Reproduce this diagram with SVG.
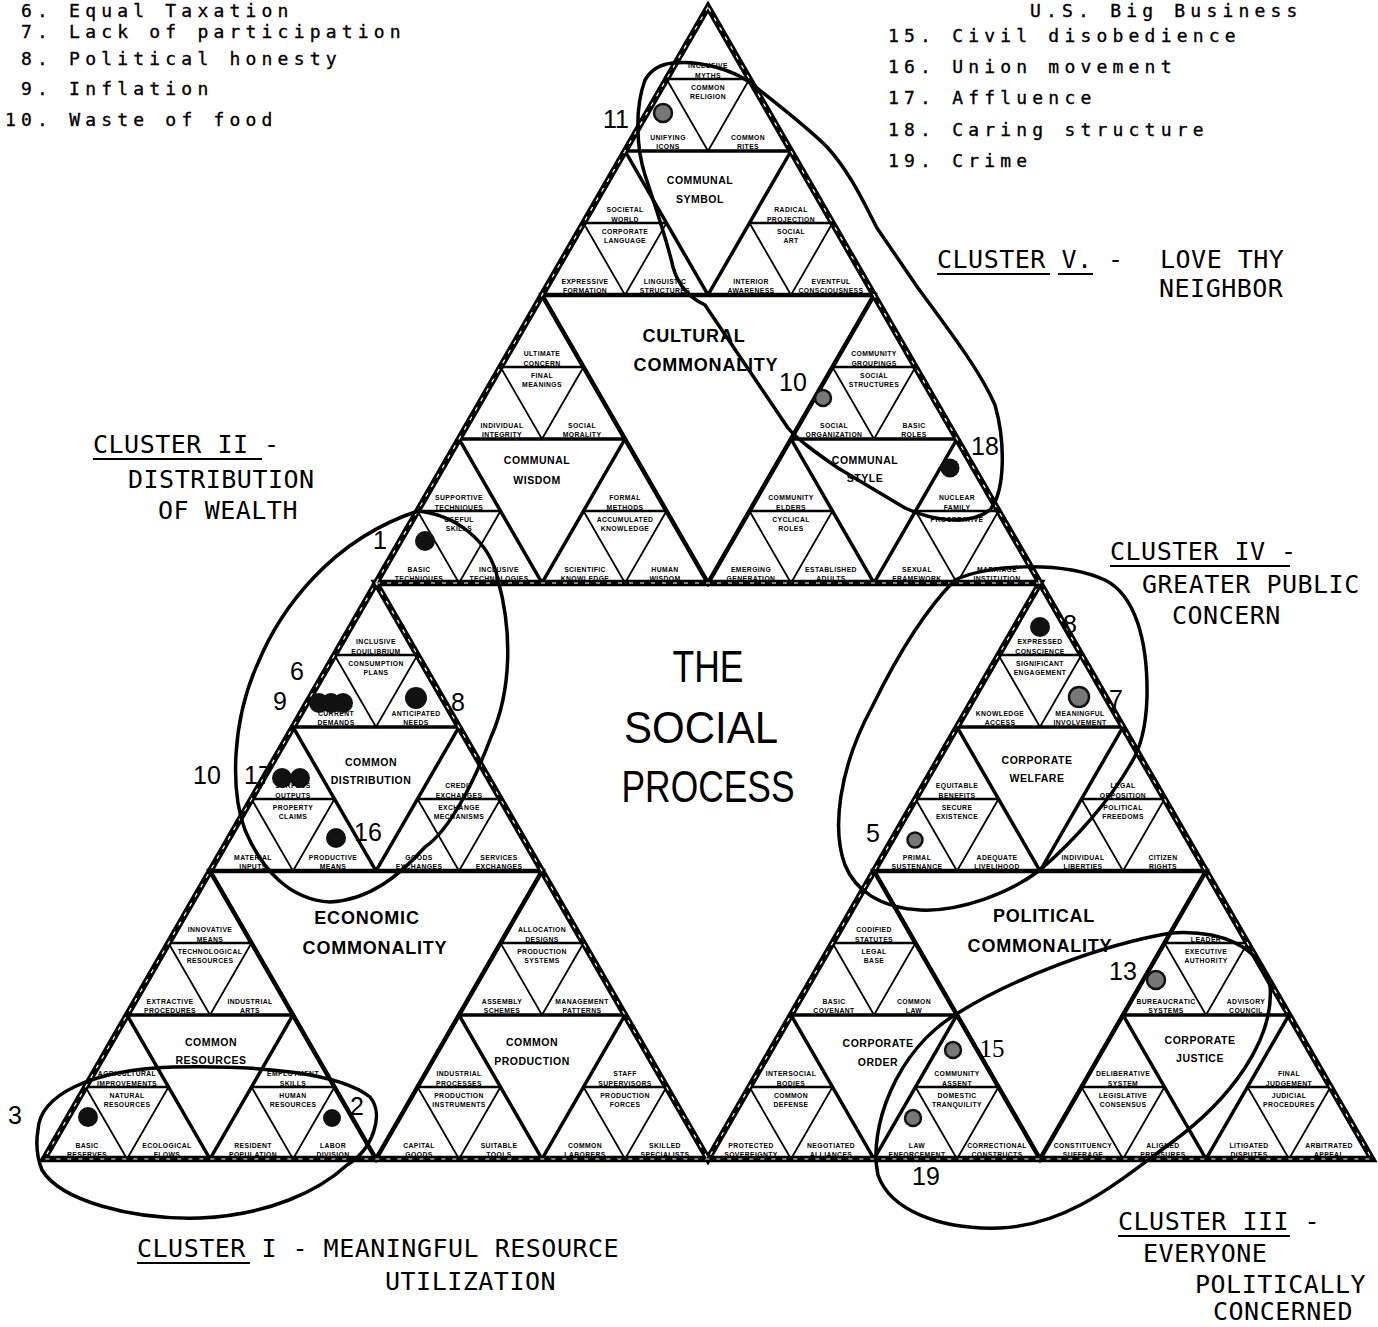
<svg xmlns="http://www.w3.org/2000/svg" xmlns:xlink="http://www.w3.org/1999/xlink" width="1378" height="1327" viewBox="0 0 1378 1327">
<style>
.s{font-family:"Liberation Sans",Arial,sans-serif;font-weight:bold;font-size:6.8px;text-anchor:middle;letter-spacing:0.4px;fill:#000}
.m{font-family:"Liberation Sans",Arial,sans-serif;font-weight:bold;font-size:10.5px;text-anchor:middle;letter-spacing:0.5px}
.b{font-family:"Liberation Sans",Arial,sans-serif;font-weight:bold;font-size:18px;text-anchor:middle;letter-spacing:0.8px}
.sp{font-family:"Liberation Sans",Arial,sans-serif;font-size:44px;text-anchor:middle}
.t{font-family:"DejaVu Sans Mono",monospace;font-size:18px;letter-spacing:5.2px;stroke:#000;stroke-width:0.35}
.c{font-family:"DejaVu Sans Mono",monospace;font-size:25px;letter-spacing:0.5px}
.n{font-family:"Liberation Sans",Arial,sans-serif;font-size:25px;text-anchor:middle}
.o3{fill:none;stroke:#000;stroke-width:3.5}
.h4{stroke:#000;stroke-width:2.6}
.d4{fill:none;stroke:#000;stroke-width:1.8}
.o2{fill:none;stroke:#000;stroke-width:4.5}
.o1{fill:none;stroke:#000;stroke-width:6.5}
.wd{fill:none;stroke:#fff;stroke-width:1.2;stroke-dasharray:4 7}
.el{fill:none;stroke:#000;stroke-width:3.5;stroke-linejoin:round}
.ul{stroke:#000;stroke-width:2}
.dk{fill:#111}
.gr{fill:#777;stroke:#111;stroke-width:2.5}
</style>
<defs>
<g id="t3"><polygon class="o3" points="0,0 -83,144 83,144"/><line class="h4" x1="-41.5" y1="72" x2="41.5" y2="72"/><polyline class="d4" points="-41.5,72 0,144 41.5,72"/></g>
</defs>
<rect width="1378" height="1327" fill="#fff"/>

<g id="lists">
<text class="t" x="21" y="17">6. Equal Taxation</text>
<text class="t" x="21" y="38">7. Lack of participation</text>
<text class="t" x="21" y="65">8. Political honesty</text>
<text class="t" x="21" y="95">9. Inflation</text>
<text class="t" x="5" y="126">10. Waste of food</text>
<text class="t" x="1030" y="17">U.S. Big Business</text>
<text class="t" x="888" y="42">15. Civil disobedience</text>
<text class="t" x="888" y="73">16. Union movement</text>
<text class="t" x="888" y="104">17. Affluence</text>
<text class="t" x="888" y="136">18. Caring structure</text>
<text class="t" x="888" y="167">19. Crime</text>
</g>

<g id="l3-inclusive-myths" transform="translate(708,7)"><use href="#t3"/><text class="s" y="61">INCLUSIVE</text><text class="s" y="70.5">MYTHS</text><text class="s" y="82.5">COMMON</text><text class="s" y="91.5">RELIGION</text><text class="s" x="-40" y="132.5">UNIFYING</text><text class="s" x="-40" y="141.5">ICONS</text><text class="s" x="40" y="132.5">COMMON</text><text class="s" x="40" y="141.5">RITES</text></g>
<g id="l3-societal-world" transform="translate(625,151)"><use href="#t3"/><text class="s" y="61">SOCIETAL</text><text class="s" y="70.5">WORLD</text><text class="s" y="82.5">CORPORATE</text><text class="s" y="91.5">LANGUAGE</text><text class="s" x="-40" y="132.5">EXPRESSIVE</text><text class="s" x="-40" y="141.5">FORMATION</text><text class="s" x="40" y="132.5">LINGUISTIC</text><text class="s" x="40" y="141.5">STRUCTURES</text></g>
<g id="l3-radical-projection" transform="translate(791,151)"><use href="#t3"/><text class="s" y="61">RADICAL</text><text class="s" y="70.5">PROJECTION</text><text class="s" y="82.5">SOCIAL</text><text class="s" y="91.5">ART</text><text class="s" x="-40" y="132.5">INTERIOR</text><text class="s" x="-40" y="141.5">AWARENESS</text><text class="s" x="40" y="132.5">EVENTFUL</text><text class="s" x="40" y="141.5">CONSCIOUSNESS</text></g>
<g id="l3-ultimate-concern" transform="translate(542,295)"><use href="#t3"/><text class="s" y="61">ULTIMATE</text><text class="s" y="70.5">CONCERN</text><text class="s" y="82.5">FINAL</text><text class="s" y="91.5">MEANINGS</text><text class="s" x="-40" y="132.5">INDIVIDUAL</text><text class="s" x="-40" y="141.5">INTEGRITY</text><text class="s" x="40" y="132.5">SOCIAL</text><text class="s" x="40" y="141.5">MORALITY</text></g>
<g id="l3-supportive-techniques" transform="translate(459,439)"><use href="#t3"/><text class="s" y="61">SUPPORTIVE</text><text class="s" y="70.5">TECHNIQUES</text><text class="s" y="82.5">USEFUL</text><text class="s" y="91.5">SKILLS</text><text class="s" x="-40" y="132.5">BASIC</text><text class="s" x="-40" y="141.5">TECHNIQUES</text><text class="s" x="40" y="132.5">INCLUSIVE</text><text class="s" x="40" y="141.5">TECHNOLOGIES</text></g>
<g id="l3-formal-methods" transform="translate(625,439)"><use href="#t3"/><text class="s" y="61">FORMAL</text><text class="s" y="70.5">METHODS</text><text class="s" y="82.5">ACCUMULATED</text><text class="s" y="91.5">KNOWLEDGE</text><text class="s" x="-40" y="132.5">SCIENTIFIC</text><text class="s" x="-40" y="141.5">KNOWLEDGE</text><text class="s" x="40" y="132.5">HUMAN</text><text class="s" x="40" y="141.5">WISDOM</text></g>
<g id="l3-community-groupings" transform="translate(874,295)"><use href="#t3"/><text class="s" y="61">COMMUNITY</text><text class="s" y="70.5">GROUPINGS</text><text class="s" y="82.5">SOCIAL</text><text class="s" y="91.5">STRUCTURES</text><text class="s" x="-40" y="132.5">SOCIAL</text><text class="s" x="-40" y="141.5">ORGANIZATION</text><text class="s" x="40" y="132.5">BASIC</text><text class="s" x="40" y="141.5">ROLES</text></g>
<g id="l3-community-elders" transform="translate(791,439)"><use href="#t3"/><text class="s" y="61">COMMUNITY</text><text class="s" y="70.5">ELDERS</text><text class="s" y="82.5">CYCLICAL</text><text class="s" y="91.5">ROLES</text><text class="s" x="-40" y="132.5">EMERGING</text><text class="s" x="-40" y="141.5">GENERATION</text><text class="s" x="40" y="132.5">ESTABLISHED</text><text class="s" x="40" y="141.5">ADULTS</text></g>
<g id="l3-nuclear-family" transform="translate(957,439)"><use href="#t3"/><text class="s" y="61">NUCLEAR</text><text class="s" y="70.5">FAMILY</text><text class="s" y="82.5">PROCREATIVE</text><text class="s" x="-40" y="132.5">SEXUAL</text><text class="s" x="-40" y="141.5">FRAMEWORK</text><text class="s" x="40" y="132.5">MARRIAGE</text><text class="s" x="40" y="141.5">INSTITUTION</text></g>
<g id="l3-inclusive-equilibrium" transform="translate(376,583)"><use href="#t3"/><text class="s" y="61">INCLUSIVE</text><text class="s" y="70.5">EQUILIBRIUM</text><text class="s" y="82.5">CONSUMPTION</text><text class="s" y="91.5">PLANS</text><text class="s" x="-40" y="132.5">CURRENT</text><text class="s" x="-40" y="141.5">DEMANDS</text><text class="s" x="40" y="132.5">ANTICIPATED</text><text class="s" x="40" y="141.5">NEEDS</text></g>
<g id="l3-surplus-outputs" transform="translate(293,727)"><use href="#t3"/><text class="s" y="61">SURPLUS</text><text class="s" y="70.5">OUTPUTS</text><text class="s" y="82.5">PROPERTY</text><text class="s" y="91.5">CLAIMS</text><text class="s" x="-40" y="132.5">MATERIAL</text><text class="s" x="-40" y="141.5">INPUTS</text><text class="s" x="40" y="132.5">PRODUCTIVE</text><text class="s" x="40" y="141.5">MEANS</text></g>
<g id="l3-credit-exchanges" transform="translate(459,727)"><use href="#t3"/><text class="s" y="61">CREDIT</text><text class="s" y="70.5">EXCHANGES</text><text class="s" y="82.5">EXCHANGE</text><text class="s" y="91.5">MECHANISMS</text><text class="s" x="-40" y="132.5">GOODS</text><text class="s" x="-40" y="141.5">EXCHANGES</text><text class="s" x="40" y="132.5">SERVICES</text><text class="s" x="40" y="141.5">EXCHANGES</text></g>
<g id="l3-innovative-means" transform="translate(210,871)"><use href="#t3"/><text class="s" y="61">INNOVATIVE</text><text class="s" y="70.5">MEANS</text><text class="s" y="82.5">TECHNOLOGICAL</text><text class="s" y="91.5">RESOURCES</text><text class="s" x="-40" y="132.5">EXTRACTIVE</text><text class="s" x="-40" y="141.5">PROCEDURES</text><text class="s" x="40" y="132.5">INDUSTRIAL</text><text class="s" x="40" y="141.5">ARTS</text></g>
<g id="l3-agricultural-improvements" transform="translate(127,1015)"><use href="#t3"/><text class="s" y="61">AGRICULTURAL</text><text class="s" y="70.5">IMPROVEMENTS</text><text class="s" y="82.5">NATURAL</text><text class="s" y="91.5">RESOURCES</text><text class="s" x="-40" y="132.5">BASIC</text><text class="s" x="-40" y="141.5">RESERVES</text><text class="s" x="40" y="132.5">ECOLOGICAL</text><text class="s" x="40" y="141.5">FLOWS</text></g>
<g id="l3-employment-skills" transform="translate(293,1015)"><use href="#t3"/><text class="s" y="61">EMPLOYMENT</text><text class="s" y="70.5">SKILLS</text><text class="s" y="82.5">HUMAN</text><text class="s" y="91.5">RESOURCES</text><text class="s" x="-40" y="132.5">RESIDENT</text><text class="s" x="-40" y="141.5">POPULATION</text><text class="s" x="40" y="132.5">LABOR</text><text class="s" x="40" y="141.5">DIVISION</text></g>
<g id="l3-allocation-designs" transform="translate(542,871)"><use href="#t3"/><text class="s" y="61">ALLOCATION</text><text class="s" y="70.5">DESIGNS</text><text class="s" y="82.5">PRODUCTION</text><text class="s" y="91.5">SYSTEMS</text><text class="s" x="-40" y="132.5">ASSEMBLY</text><text class="s" x="-40" y="141.5">SCHEMES</text><text class="s" x="40" y="132.5">MANAGEMENT</text><text class="s" x="40" y="141.5">PATTERNS</text></g>
<g id="l3-industrial-processes" transform="translate(459,1015)"><use href="#t3"/><text class="s" y="61">INDUSTRIAL</text><text class="s" y="70.5">PROCESSES</text><text class="s" y="82.5">PRODUCTION</text><text class="s" y="91.5">INSTRUMENTS</text><text class="s" x="-40" y="132.5">CAPITAL</text><text class="s" x="-40" y="141.5">GOODS</text><text class="s" x="40" y="132.5">SUITABLE</text><text class="s" x="40" y="141.5">TOOLS</text></g>
<g id="l3-staff-supervisors" transform="translate(625,1015)"><use href="#t3"/><text class="s" y="61">STAFF</text><text class="s" y="70.5">SUPERVISORS</text><text class="s" y="82.5">PRODUCTION</text><text class="s" y="91.5">FORCES</text><text class="s" x="-40" y="132.5">COMMON</text><text class="s" x="-40" y="141.5">LABORERS</text><text class="s" x="40" y="132.5">SKILLED</text><text class="s" x="40" y="141.5">SPECIALISTS</text></g>
<g id="l3-expressed-conscience" transform="translate(1040,583)"><use href="#t3"/><text class="s" y="61">EXPRESSED</text><text class="s" y="70.5">CONSCIENCE</text><text class="s" y="82.5">SIGNIFICANT</text><text class="s" y="91.5">ENGAGEMENT</text><text class="s" x="-40" y="132.5">KNOWLEDGE</text><text class="s" x="-40" y="141.5">ACCESS</text><text class="s" x="40" y="132.5">MEANINGFUL</text><text class="s" x="40" y="141.5">INVOLVEMENT</text></g>
<g id="l3-equitable-benefits" transform="translate(957,727)"><use href="#t3"/><text class="s" y="61">EQUITABLE</text><text class="s" y="70.5">BENEFITS</text><text class="s" y="82.5">SECURE</text><text class="s" y="91.5">EXISTENCE</text><text class="s" x="-40" y="132.5">PRIMAL</text><text class="s" x="-40" y="141.5">SUSTENANCE</text><text class="s" x="40" y="132.5">ADEQUATE</text><text class="s" x="40" y="141.5">LIVELIHOOD</text></g>
<g id="l3-legal-opposition" transform="translate(1123,727)"><use href="#t3"/><text class="s" y="61">LEGAL</text><text class="s" y="70.5">OPPOSITION</text><text class="s" y="82.5">POLITICAL</text><text class="s" y="91.5">FREEDOMS</text><text class="s" x="-40" y="132.5">INDIVIDUAL</text><text class="s" x="-40" y="141.5">LIBERTIES</text><text class="s" x="40" y="132.5">CITIZEN</text><text class="s" x="40" y="141.5">RIGHTS</text></g>
<g id="l3-codified-statutes" transform="translate(874,871)"><use href="#t3"/><text class="s" y="61">CODIFIED</text><text class="s" y="70.5">STATUTES</text><text class="s" y="82.5">LEGAL</text><text class="s" y="91.5">BASE</text><text class="s" x="-40" y="132.5">BASIC</text><text class="s" x="-40" y="141.5">COVENANT</text><text class="s" x="40" y="132.5">COMMON</text><text class="s" x="40" y="141.5">LAW</text></g>
<g id="l3-intersocial-bodies" transform="translate(791,1015)"><use href="#t3"/><text class="s" y="61">INTERSOCIAL</text><text class="s" y="70.5">BODIES</text><text class="s" y="82.5">COMMON</text><text class="s" y="91.5">DEFENSE</text><text class="s" x="-40" y="132.5">PROTECTED</text><text class="s" x="-40" y="141.5">SOVEREIGNTY</text><text class="s" x="40" y="132.5">NEGOTIATED</text><text class="s" x="40" y="141.5">ALLIANCES</text></g>
<g id="l3-community-assent" transform="translate(957,1015)"><use href="#t3"/><text class="s" y="61">COMMUNITY</text><text class="s" y="70.5">ASSENT</text><text class="s" y="82.5">DOMESTIC</text><text class="s" y="91.5">TRANQUILITY</text><text class="s" x="-40" y="132.5">LAW</text><text class="s" x="-40" y="141.5">ENFORCEMENT</text><text class="s" x="40" y="132.5">CORRECTIONAL</text><text class="s" x="40" y="141.5">CONSTRUCTS</text></g>
<g id="l3-leader" transform="translate(1206,871)"><use href="#t3"/><text class="s" y="70.5">LEADER</text><text class="s" y="82.5">EXECUTIVE</text><text class="s" y="91.5">AUTHORITY</text><text class="s" x="-40" y="132.5">BUREAUCRATIC</text><text class="s" x="-40" y="141.5">SYSTEMS</text><text class="s" x="40" y="132.5">ADVISORY</text><text class="s" x="40" y="141.5">COUNCIL</text></g>
<g id="l3-deliberative-system" transform="translate(1123,1015)"><use href="#t3"/><text class="s" y="61">DELIBERATIVE</text><text class="s" y="70.5">SYSTEM</text><text class="s" y="82.5">LEGISLATIVE</text><text class="s" y="91.5">CONSENSUS</text><text class="s" x="-40" y="132.5">CONSTITUENCY</text><text class="s" x="-40" y="141.5">SUFFRAGE</text><text class="s" x="40" y="132.5">ALIGNED</text><text class="s" x="40" y="141.5">PRESSURES</text></g>
<g id="l3-final-judgement" transform="translate(1289,1015)"><use href="#t3"/><text class="s" y="61">FINAL</text><text class="s" y="70.5">JUDGEMENT</text><text class="s" y="82.5">JUDICIAL</text><text class="s" y="91.5">PROCEDURES</text><text class="s" x="-40" y="132.5">LITIGATED</text><text class="s" x="-40" y="141.5">DISPUTES</text><text class="s" x="40" y="132.5">ARBITRATED</text><text class="s" x="40" y="141.5">APPEAL</text></g>

<g id="frame">
<polygon class="o2" points="542,295 874,295 708,583"/>
<polygon class="o2" points="210,871 542,871 376,1159"/>
<polygon class="o2" points="874,871 1206,871 1040,1159"/>
<polygon class="o1" points="708,7 44,1159 1372,1159"/>
<polygon class="o1" points="376,583 1040,583 708,1159"/>
<polygon class="wd" points="708,7 44,1159 1372,1159"/>
<polygon class="wd" points="376,583 1040,583 708,1159"/>
</g>

<g id="l2-labels">
<g id="communal-symbol"><text class="m" x="700" y="184">COMMUNAL</text><text class="m" x="700" y="203">SYMBOL</text></g>
<g id="communal-wisdom"><text class="m" x="537" y="464">COMMUNAL</text><text class="m" x="537" y="484">WISDOM</text></g>
<g id="communal-style"><text class="m" x="865" y="464">COMMUNAL</text><text class="m" x="865" y="482">STYLE</text></g>
<g id="common-distribution"><text class="m" x="371" y="766">COMMON</text><text class="m" x="371" y="784">DISTRIBUTION</text></g>
<g id="common-resources"><text class="m" x="211" y="1046">COMMON</text><text class="m" x="211" y="1064">RESOURCES</text></g>
<g id="common-production"><text class="m" x="532" y="1046">COMMON</text><text class="m" x="532" y="1065">PRODUCTION</text></g>
<g id="corporate-welfare"><text class="m" x="1037" y="764">CORPORATE</text><text class="m" x="1037" y="782">WELFARE</text></g>
<g id="corporate-order"><text class="m" x="878" y="1047">CORPORATE</text><text class="m" x="878" y="1066">ORDER</text></g>
<g id="corporate-justice"><text class="m" x="1200" y="1044">CORPORATE</text><text class="m" x="1200" y="1062">JUSTICE</text></g>
</g>

<g id="l1-labels">
<g id="cultural-commonality"><text class="b" x="694" y="342">CULTURAL</text><text class="b" x="706" y="371">COMMONALITY</text></g>
<g id="economic-commonality"><text class="b" x="367" y="924">ECONOMIC</text><text class="b" x="375" y="954">COMMONALITY</text></g>
<g id="political-commonality"><text class="b" x="1044" y="922">POLITICAL</text><text class="b" x="1040" y="952">COMMONALITY</text></g>
<g id="social-process"><text class="sp" x="708" y="682" textLength="71" lengthAdjust="spacingAndGlyphs">THE</text><text class="sp" x="701" y="743" textLength="154" lengthAdjust="spacingAndGlyphs">SOCIAL</text><text class="sp" x="708" y="802" textLength="173" lengthAdjust="spacingAndGlyphs">PROCESS</text></g>
</g>

<g id="connectors">
<path id="cluster-v" class="el" d="M673,63 C700,60 735,70 753,85 C785,110 810,130 827,147 C850,172 865,205 877,228 L918,288 C945,325 980,370 995,405 C1005,440 1006,490 990,510 C970,525 935,522 905,508 L838,468 C815,452 798,440 788,428 L705,305 C690,298 678,285 673,267 C668,245 655,205 645,175 C637,150 634,110 645,80 C652,68 662,64 673,63 Z"/>
<path id="cluster-ii" class="el" d="M418,511 C455,515 490,540 498,580 C512,630 512,690 491,737 C475,780 450,830 425,847 C400,875 370,900 330,902 C290,900 262,870 245,830 C230,790 232,720 258,663 C280,610 330,540 418,511 Z"/>
<path id="cluster-i" class="el" d="M38,1130 C40,1095 90,1070 173,1067 C260,1065 340,1073 370,1097 C385,1115 372,1150 347,1165 C320,1190 270,1215 200,1218 C130,1220 60,1200 42,1170 C36,1155 36,1142 38,1130 Z"/>
<path id="cluster-iv" class="el" d="M955,580 C985,565 1060,560 1105,580 C1135,595 1148,640 1147,697 C1146,730 1140,750 1130,765 C1110,800 1075,840 1040,870 C1010,893 960,912 920,910 C880,908 855,890 845,865 C832,830 838,770 872,707 C895,660 925,610 955,580 Z"/>
<path id="cluster-iii" class="el" d="M958,1013 C1010,980 1100,945 1171,933 C1220,930 1260,945 1270,985 C1275,1040 1230,1100 1171,1143 C1120,1180 1070,1225 1000,1228 C940,1230 890,1210 878,1175 C868,1130 895,1050 958,1013 Z"/>
</g>

<g id="dots">
<circle class="gr" cx="663" cy="113" r="9"/>
<circle class="gr" cx="823" cy="398" r="8"/>
<circle class="dk" cx="950" cy="468" r="9.5"/>
<circle class="dk" cx="425" cy="541" r="10"/>
<circle class="dk" cx="319" cy="703" r="10"/>
<circle class="dk" cx="331" cy="703" r="10"/>
<circle class="dk" cx="343" cy="703" r="10"/>
<circle class="dk" cx="416" cy="698" r="11"/>
<circle class="dk" cx="282" cy="778" r="10"/>
<circle class="dk" cx="300" cy="778" r="10"/>
<circle class="dk" cx="336" cy="838" r="10"/>
<circle class="dk" cx="88" cy="1117" r="10"/>
<circle class="dk" cx="332" cy="1118" r="9"/>
<circle class="dk" cx="1040" cy="627" r="10"/>
<circle class="gr" cx="1079" cy="697" r="10"/>
<circle class="gr" cx="915" cy="840" r="7.5"/>
<circle class="gr" cx="1156" cy="980" r="9"/>
<circle class="gr" cx="953" cy="1050" r="8"/>
<circle class="gr" cx="913" cy="1118" r="8"/>
</g>

<g id="numbers">
<text class="n" x="616" y="128">11</text>
<text class="n" x="793" y="391">10</text>
<text class="n" x="985" y="455">18</text>
<text class="n" x="380" y="549">1</text>
<text class="n" x="297" y="680">6</text>
<text class="n" x="280" y="710">9</text>
<text class="n" x="458" y="711">8</text>
<text class="n" x="207" y="784">10</text>
<text class="n" x="258" y="784">17</text>
<text class="n" x="368" y="841">16</text>
<text class="n" x="15" y="1124">3</text>
<text class="n" x="357" y="1115">2</text>
<text class="n" x="1070" y="633">8</text>
<text class="n" x="1116" y="708">7</text>
<text class="n" x="873" y="842">5</text>
<text class="n" x="1123" y="980">13</text>
<text class="n" x="992" y="1057" style="font-family:'Liberation Serif',serif">15</text>
<text class="n" x="926" y="1185">19</text>
</g>

<g id="cluster-labels">
<g id="label-cluster-v"><text class="c" x="937" y="268">CLUSTER V. -</text><text class="c" x="1160" y="268">LOVE THY</text><text class="c" x="1159" y="297">NEIGHBOR</text><line class="ul" x1="937" y1="274" x2="1050" y2="274"/><line class="ul" x1="1058" y1="274" x2="1093" y2="274"/></g>
<g id="label-cluster-ii"><text class="c" x="93" y="453">CLUSTER II -</text><text class="c" x="128" y="488">DISTRIBUTION</text><text class="c" x="158" y="519">OF WEALTH</text><line class="ul" x1="93" y1="459" x2="262" y2="459"/></g>
<g id="label-cluster-iv"><text class="c" x="1110" y="560">CLUSTER IV -</text><text class="c" x="1142" y="593">GREATER PUBLIC</text><text class="c" x="1172" y="624">CONCERN</text><line class="ul" x1="1110" y1="566" x2="1290" y2="566"/></g>
<g id="label-cluster-i"><text class="c" x="137" y="1257">CLUSTER I - MEANINGFUL RESOURCE</text><text class="c" x="385" y="1290">UTILIZATION</text><line class="ul" x1="137" y1="1263" x2="250" y2="1263"/></g>
<g id="label-cluster-iii"><text class="c" x="1118" y="1230">CLUSTER III -</text><text class="c" x="1143" y="1262">EVERYONE</text><text class="c" x="1195" y="1293">POLITICALLY</text><text class="c" x="1213" y="1320">CONCERNED</text><line class="ul" x1="1118" y1="1236" x2="1290" y2="1236"/></g>
</g>
</svg>
